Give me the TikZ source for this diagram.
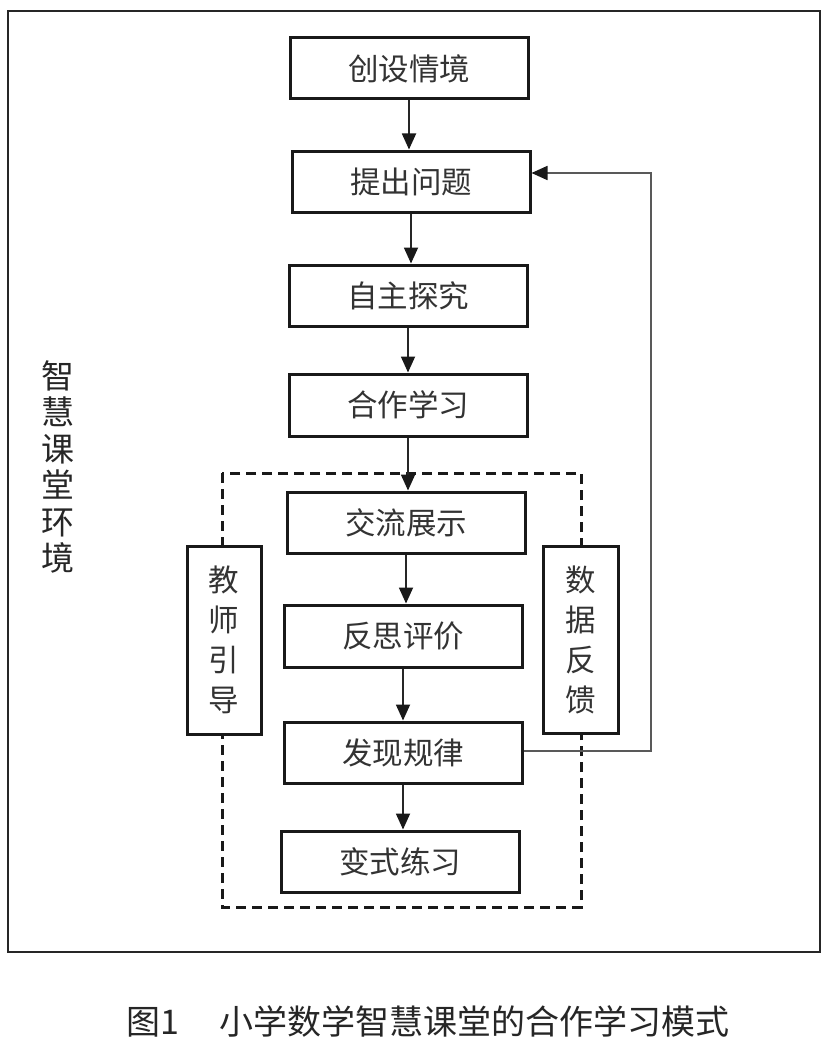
\documentclass[tikz,border=0pt]{standalone}
\usepackage{fontspec}
\newfontfamily\cjk{Noto Sans CJK SC}
\usetikzlibrary{arrows.meta}
\begin{document}
\begin{tikzpicture}[x=1pt,y=-1pt,
  stepbox/.style={draw=black!90, line width=3pt, fill=white, inner sep=0pt,
    minimum width=238pt, minimum height=61pt, font=\cjk\fontsize{30.5}{36}\selectfont, text=black!80},
  sidebox/.style={draw=black!90, line width=3pt, fill=white, inner sep=0pt,
    minimum width=75pt, minimum height=188pt, align=center,
    font=\cjk\fontsize{30.5}{40}\selectfont, text=black!80},
  flow/.style={line width=1.8pt, draw=black!85, -{Triangle[length=16pt,width=14pt,color=black!90]}},
  fb/.style={line width=1.8pt, draw=black!65, -{Triangle[length=16pt,width=14pt,color=black!90]}},
  dashbox/.style={line width=3pt, draw=black!90, dash pattern=on 10pt off 6pt}]
\useasboundingbox (0,0) rectangle (831,1046);
\fill[white] (0,0) rectangle (831,1046);
% outer frame
\draw[line width=2.5pt, draw=black!85] (8,11) rectangle (820,952);
% dashed group
\draw[dashbox] (222,473) rectangle (581,907);
% steps
\node[stepbox] (b1) at (409,68.5) {创设情境};
\node[stepbox] (b2) at (411,181.5) {提出问题};
\node[stepbox] (b3) at (408,295.5) {自主探究};
\node[stepbox, minimum height=62pt] (b4) at (408,405) {合作学习};
\node[stepbox] (b5) at (406,522.5) {交流展示};
\node[stepbox, minimum height=62pt] (b6) at (403,636) {反思评价};
\node[stepbox] (b7) at (403,752.5) {发现规律};
\node[stepbox] (b8) at (400,861.5) {变式练习};
% side boxes
\node[sidebox, minimum width=74pt] (t) at (224,640) {教\\师\\引\\导};
\node[sidebox, minimum height=187pt] (d) at (580.5,639.5) {数\\据\\反\\馈};
% environment label
\node[align=center, inner sep=0pt, font=\cjk\fontsize{33}{36.5}\selectfont, text=black!85] (env) at (58,467) {智\\慧\\课\\堂\\环\\境};
% arrows
\draw[flow] (b1.south) -- (b1.south |- b2.north);
\draw[flow] (b2.south) -- (b2.south |- b3.north);
\draw[flow] (b3.south) -- (b3.south |- b4.north);
\draw[flow] (b4.south) -- (b4.south |- b5.north);
\draw[flow] (b5.south) -- (b5.south |- b6.north);
\draw[flow] (b6.south) -- (b6.south |- b7.north);
\draw[flow] (b7.south) -- (b7.south |- b8.north);
% feedback loop
\coordinate (fbc) at (651,751);
\draw[fb] (b7.east |- fbc) -- (fbc) |- ([yshift=8.5pt]b2.east);
% caption
\node[anchor=west, inner sep=0pt, font=\cjk\fontsize{34}{36}\selectfont, text=black!85] (cap) at (126,1021) {图1\hspace{40pt}小学数学智慧课堂的合作学习模式};
\end{tikzpicture}
\end{document}
